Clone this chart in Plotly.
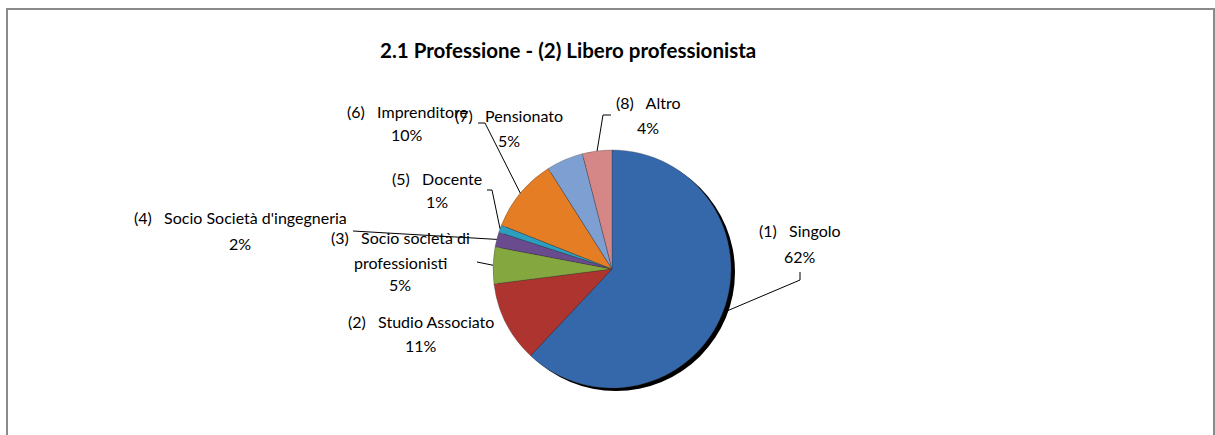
import math
import plotly.graph_objects as go

W, H = 1215, 435

# ---- data ----
categories = ["Singolo", "Studio Associato", "Socio società di professionisti",
              "Socio Società d'ingegneria", "Docente", "Imprenditore",
              "Pensionato", "Altro"]
percent = [62, 11, 5, 2, 1, 10, 5, 4]
colors = ["#3567AB", "#AE3430", "#84A83F", "#6A4B8E", "#2C9EC0",
          "#E57D24", "#7E9FD2", "#D48786"]
title_text = "2.1 Professione - (2) Libero professionista"

# ---- layout settings (pixels in the page) ----
CX, CY, R = 612, 269, 119
NB = "\u00a0\u00a0\u00a0"
FONT = "Lato, Carlito, sans-serif"
label_lines = [
    (800, [231, 256], [f"(1){NB}Singolo"]),
    (421, [321, 345], [f"(2){NB}Studio Associato"]),
    (400, [237, 262, 284], [f"(3){NB}Socio società di", "professionisti"]),
    (240, [218, 243], [f"(4){NB}Socio Società d'ingegneria"]),
    (437, [178, 202], [f"(5){NB}Docente"]),
    (407, [111, 134], [f"(6){NB}Imprenditore"]),
    (509, [115, 140], [f"(7){NB}Pensionato"]),
    (648, [103, 127], [f"(8){NB}Altro"]),
]
leader_paths = [
    [(800, 280), (800, 272)],
    None,
    [(477, 262)],
    [(353, 231)],
    [(492, 190), (487, 190)],
    [(485, 123), (478, 123)],
    None,
    [(603, 115), (611, 115)],
]

def px(x, y):
    return x / W, 1 - y / H

fig = go.Figure()
x0, y0 = px(CX - R, CY + R)
x1, y1 = px(CX + R, CY - R)
fig.add_trace(go.Pie(
    labels=categories, values=percent, sort=False, direction="clockwise",
    rotation=0, textinfo="none", hoverinfo="skip", showlegend=False,
    marker=dict(colors=colors, line=dict(color="rgba(60,60,60,0.45)", width=0.7)),
    domain=dict(x=[x0, x1], y=[y0, y1]),
))

shapes = []
bx0, by0 = px(7, 9)
bx1, by1 = px(1214, 460)
shapes.append(dict(type="rect", xref="paper", yref="paper", x0=bx0, y0=by1, x1=bx1, y1=by0,
                   line=dict(color="#8A8A8A", width=2), layer="below"))
sx0, sy0 = px(CX - R + 4, CY + R + 3)
sx1, sy1 = px(CX + R + 4, CY - R + 3)
shapes.append(dict(type="circle", xref="paper", yref="paper", x0=sx0, y0=sy0, x1=sx1, y1=sy1,
                   fillcolor="#000000", line=dict(width=0), layer="below"))

total = sum(percent)
cum = 0
for i, v in enumerate(percent):
    mid = (cum + v / 2) / total * 2 * math.pi
    cum += v
    path = leader_paths[i]
    if path is None:
        continue
    ex = CX + R * math.sin(mid)
    ey = CY - R * math.cos(mid)
    pts = [(ex, ey)] + path
    d = "M " + " L ".join(f"{px(a, b)[0]},{px(a, b)[1]}" for a, b in pts)
    shapes.append(dict(type="path", xref="paper", yref="paper", path=d,
                       line=dict(color="#000000", width=1)))

annotations = []
for i, (lx, ys, lines) in enumerate(label_lines):
    texts = lines + [f"{percent[i]}%"]
    for t, yy in zip(texts, ys):
        ax, ay = px(lx, yy)
        annotations.append(dict(x=ax, y=ay, xref="paper", yref="paper", text=t,
                                showarrow=False, xanchor="center", yanchor="middle",
                                font=dict(family=FONT, size=16, color="#000")))

tx, ty = px(568, 50)
annotations.append(dict(x=tx, y=ty, xref="paper", yref="paper",
                        text=f"<b>{title_text}</b>", showarrow=False,
                        xanchor="center", yanchor="middle",
                        font=dict(family=FONT, size=20.5, color="#000")))

fig.update_layout(width=W, height=H, margin=dict(l=0, r=0, t=0, b=0),
                  paper_bgcolor="white", plot_bgcolor="white",
                  shapes=shapes, annotations=annotations)
fig.write_html("out.html", config={"displayModeBar": False},
               post_script="document.body.style.margin='0';")
